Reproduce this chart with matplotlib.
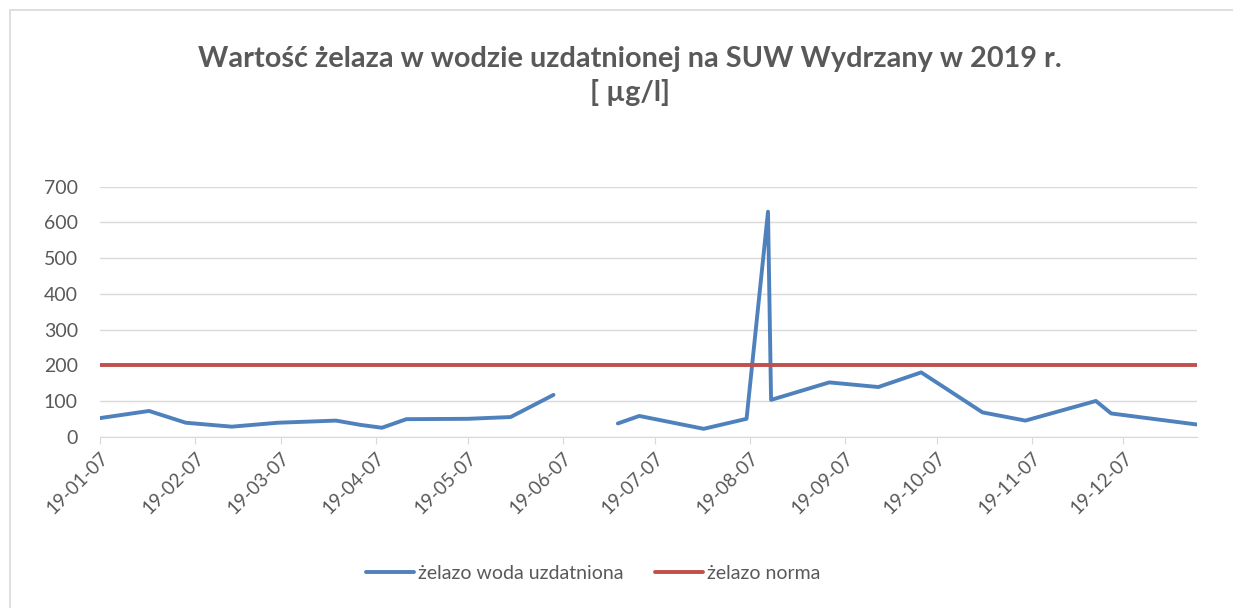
import numpy as np
import pandas as pd
import matplotlib
matplotlib.use('Agg')
import matplotlib.pyplot as plt
import matplotlib.dates as mdates
from matplotlib.patches import Rectangle

# Measurement dates and iron values [ug/l]; NaN = missing sample (gap in the line)
dates = ['2019-01-07', '2019-01-23', '2019-02-04', '2019-02-19', '2019-03-06',
         '2019-03-25', '2019-04-02', '2019-04-09', '2019-04-17', '2019-05-07',
         '2019-05-21', '2019-06-04', '2019-06-14', '2019-06-25', '2019-07-02',
         '2019-07-23', '2019-08-06', '2019-08-13', '2019-08-14', '2019-09-02',
         '2019-09-18', '2019-10-02', '2019-10-22', '2019-11-05', '2019-11-28',
         '2019-12-03', '2019-12-31']
iron = [52, 72, 39, 28, 39,
        45, 33, 25, 49, 50,
        55, 117, np.nan, 37, 58,
        22, 50, 630, 103, 152,
        139, 180, 68, 45, 100,
        65, 34]
norm = [200] * len(dates)

title = 'Wartość żelaza w wodzie uzdatnionej na SUW Wydrzany w 2019 r.\n[ µg/l]'
label_iron = 'żelazo woda uzdatniona'
label_norm = 'żelazo norma'

plt.rcParams['font.family'] = ['Lato', 'DejaVu Sans']
grey = '#595959'
grid = '#d9d9d9'

x = pd.to_datetime(dates)

fig = plt.figure(figsize=(12.33, 6.08), dpi=100)
ax = fig.add_axes([0.0811, 0.2818, 0.8897, 0.4111])

ax.plot(x, iron, color='#4f81bd', lw=2.8, solid_capstyle='round', solid_joinstyle='round', label=label_iron)
ax.plot(x, norm, color='#c0504d', lw=2.8, solid_capstyle='round', label=label_norm)

ax.set_xlim(x[0], x[-1])
ax.set_ylim(0, 700)
ax.set_yticks(range(0, 701, 100))
ax.grid(axis='y', color=grid, lw=1)
ax.set_axisbelow(True)

# ticks on the 7th of every month
ticks = pd.date_range('2019-01-01', '2019-12-01', freq='MS') + pd.Timedelta(days=6)
ax.set_xticks(ticks)
ax.xaxis.set_major_formatter(mdates.DateFormatter('%y-%m-%d'))
for lbl in ax.get_xticklabels():
    lbl.set_rotation(45)
    lbl.set_ha('right')
    lbl.set_rotation_mode('anchor')

for s in ['top', 'right', 'left']:
    ax.spines[s].set_visible(False)
ax.spines['bottom'].set_color(grid)
ax.tick_params(axis='y', length=0, labelsize=14, labelcolor=grey, pad=16)
ax.tick_params(axis='x', length=5, color=grid, labelsize=13.5, labelcolor=grey, pad=4)

fig.text(0.511, 0.875, title, ha='center', va='center', fontsize=20.8,
         fontweight='bold', color=grey, linespacing=1.3)

fig.legend(loc='center', bbox_to_anchor=(0.481, 0.057), ncol=2, frameon=False,
           fontsize=14, labelcolor=grey, handlelength=2.5, handletextpad=0.2,
           columnspacing=1.6)

fig.patches.append(Rectangle((10 / 1233, -0.1), 1.2, 1 - 10 / 608 + 0.1,
                             transform=fig.transFigure, fill=False,
                             edgecolor=grid, lw=1.2))

fig.savefig('out.png', dpi=100)
